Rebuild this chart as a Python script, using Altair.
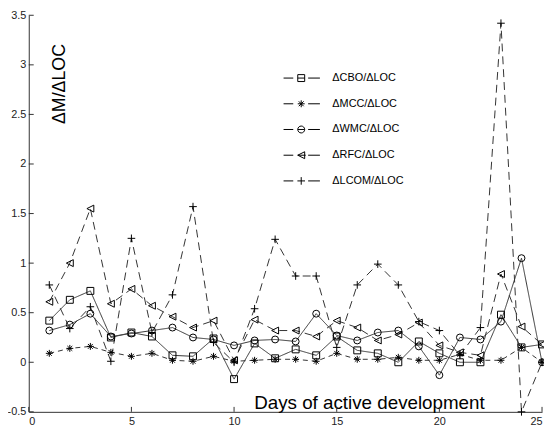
import altair as alt
import pandas as pd

days = list(range(1, 26))
series_names = ["ΔCBO/ΔLOC", "ΔMCC/ΔLOC", "ΔWMC/ΔLOC", "ΔRFC/ΔLOC", "ΔLCOM/ΔLOC"]

cbo = [0.42, 0.63, 0.72, 0.25, 0.30, 0.26, 0.07, 0.06, 0.24, -0.17, 0.19, 0.04, 0.13,
       0.07, 0.26, 0.12, 0.09, 0.0, 0.21, 0.09, 0.0, 0.0, 0.48, 0.15, 0.18]
mcc = [0.09, 0.14, 0.16, 0.10, 0.06, 0.09, 0.02, 0.01, 0.06, 0.01, 0.02, 0.03, 0.03,
       0.01, 0.09, 0.03, 0.03, 0.05, 0.02, 0.02, 0.08, 0.02, 0.02, 0.15, 0.0]
wmc = [0.32, 0.38, 0.49, 0.26, 0.29, 0.32, 0.35, 0.25, 0.23, 0.17, 0.22, 0.23, 0.21,
       0.49, 0.27, 0.22, 0.30, 0.32, 0.16, -0.13, 0.25, 0.23, 0.41, 1.05, 0.0]
rfc = [0.61, 1.0, 1.55, 0.59, 0.74, 0.57, 0.46, 0.35, 0.42, 0.02, 0.43, 0.32, 0.32,
       0.26, 0.42, 0.35, 0.22, 0.28, 0.40, 0.17, 0.10, 0.07, 0.89, 0.36, 0.18]
lcom = [0.78, 0.34, 0.56, 0.01, 1.25, 0.30, 0.68, 1.57, 0.20, 0.0, 0.54, 1.24, 0.87,
        0.87, 0.15, 0.78, 0.99, 0.78, 0.41, 0.32, 0.07, 0.35, 3.42, -0.5, 0.0]

x_ticks = [0, 5, 10, 15, 20, 25]
y_ticks = [-0.5, 0, 0.5, 1, 1.5, 2, 2.5, 3, 3.5]

rows = []
for name, vals in zip(series_names, [cbo, mcc, wmc, rfc, lcom]):
    for d, v in zip(days, vals):
        rows.append({"day": d, "value": v, "series": name})
df = pd.DataFrame(rows)
tick_df = pd.DataFrame({"d": x_ticks + [None] * (len(y_ticks) - len(x_ticks)), "v": y_ticks})

FONT = "Liberation Sans"

marker_paths = [
    "square",
    "M-1,0H1M0,-1V1M-0.7,-0.7L0.7,0.7M-0.7,0.7L0.7,-0.7",
    "circle",
    "M-1,0L1,-1L1,1Z",
    "M-1.1,0H1.1M0,-1.1V1.1",
]
dash_l = "M-5.1,0H-2.3"
dash_r = "M2,0H5.4"
legend_paths = [
    dash_l + dash_r + "M-1,-1H1V1H-1ZM-1,0H1",
    dash_l + dash_r + "M-1,0H1M0,-1V1M-0.7,-0.7L0.7,0.7M-0.7,0.7L0.7,-0.7",
    dash_l + dash_r + "M1,0A1,1 0 1,1 -1,0A1,1 0 1,1 1,0M-1,0H1",
    dash_l + dash_r + "M-1,0L1,-1L1,1ZM-1,0H1.3",
    dash_l + dash_r + "M-1.1,0H1.1M0,-1.1V1.1",
]
dashes = [[1, 0], [5, 4], [1, 0], [8, 5], [8, 5]]

x_scale = alt.Scale(domain=[0, 25], nice=False, zero=False)
y_scale = alt.Scale(domain=[-0.5, 3.5], nice=False, zero=False)
x_axis = alt.Axis(
    values=x_ticks, ticks=False, grid=False, labelPadding=4,
    title="Days of active development", titleFontSize=19, titleFontWeight="normal",
    titleFont=FONT, titleColor="#000", titleX=344, titleY=-3,
    titleAlign="center", titleBaseline="alphabetic",
)
y_axis = alt.Axis(
    values=y_ticks, ticks=False, grid=False, labelPadding=3,
    labelExpr="datum.value + ''",
    title="ΔM/ΔLOC", titleFontSize=18, titleFontWeight="normal",
    titleFont=FONT, titleColor="#000", titleAngle=270, titleX=36, titleY=69,
    titleAlign="center", titleBaseline="alphabetic",
)
x_enc = alt.X("day:Q", scale=x_scale, axis=x_axis)
y_enc = alt.Y("value:Q", scale=y_scale, axis=y_axis)

base = alt.Chart(df)

legend_layer = base.mark_point(opacity=0, filled=False, strokeWidth=1).encode(
    x=x_enc, y=y_enc,
    shape=alt.Shape(
        "series:N",
        scale=alt.Scale(domain=series_names, range=legend_paths),
        legend=alt.Legend(
            title=None, orient="none", legendX=270, legendY=58, padding=0,
            symbolSize=49, symbolOpacity=1, symbolStrokeColor="#000",
            symbolFillColor="transparent", symbolStrokeWidth=1,
            labelFont=FONT, labelFontSize=11, labelColor="#000",
            labelOffset=26, rowPadding=14,
        ),
    ),
)

lines = base.mark_line(color="#333", strokeWidth=1).encode(
    x=x_enc, y=y_enc,
    detail="series:N",
    strokeDash=alt.StrokeDash(
        "series:N", scale=alt.Scale(domain=series_names, range=dashes), legend=None
    ),
)

points = base.mark_point(filled=False, color="#000", strokeWidth=1, size=49, opacity=1).encode(
    x=x_enc, y=y_enc,
    shape=alt.Shape(
        "series:N", scale=alt.Scale(domain=series_names, range=marker_paths), legend=None
    ),
)

tick_base = alt.Chart(tick_df)
yticks = tick_base.mark_rule(color="#333").encode(
    y=alt.Y("v:Q", scale=y_scale, axis=y_axis),
    x=alt.value(0), x2=alt.value(5),
)
xticks = tick_base.transform_filter("isValid(datum.d)").mark_rule(color="#333").encode(
    x=alt.X("d:Q", scale=x_scale, axis=x_axis),
    y=alt.value(401), y2=alt.value(396),
)

chart = alt.layer(legend_layer, lines, points, yticks, xticks).resolve_scale(
    shape="independent"
).properties(
    width=519, height=401,
    padding={"left": 21, "top": 5, "right": 2, "bottom": 15},
    autosize=alt.AutoSizeParams(type="none"),
    background="white",
).configure_view(stroke=None).configure_axis(
    domainColor="#333", domainWidth=1, labelFont=FONT, labelFontSize=11,
    labelColor="#222",
)

chart.save("out.html", embed_options={"renderer": "svg", "actions": False})
